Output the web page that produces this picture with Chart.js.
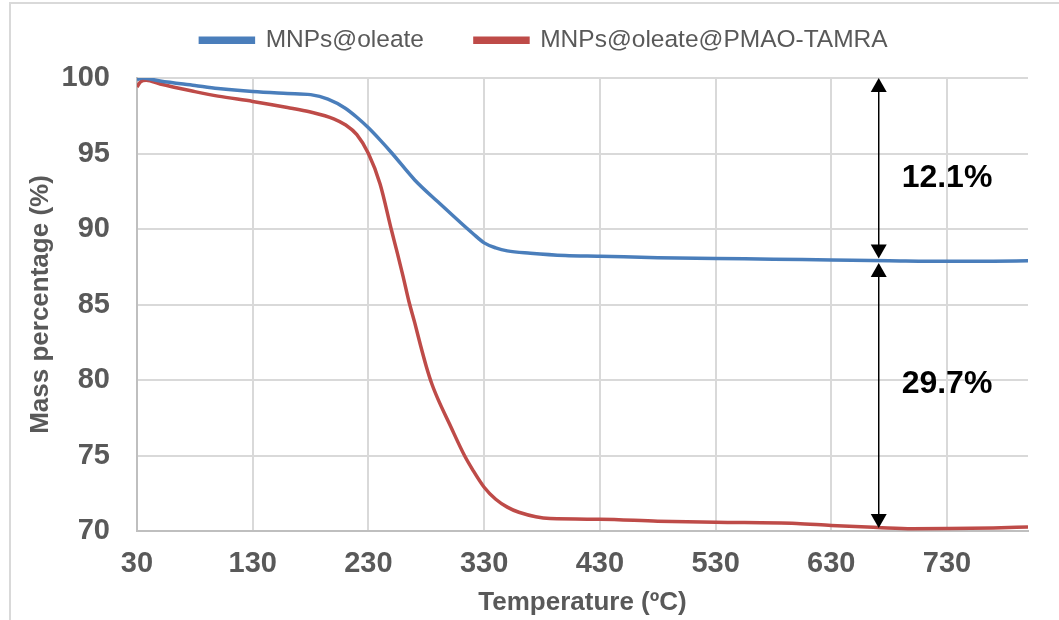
<!DOCTYPE html>
<html>
<head>
<meta charset="utf-8">
<script src="https://cdn.jsdelivr.net/npm/chart.js@4"></script>
<style>
  html, body { margin: 0; padding: 0; background: #fff; }
  #wrap { position: relative; width: 1059px; height: 620px; overflow: hidden; }
  #frame { position: absolute; left: 9px; top: 2px; width: 1100px; height: 700px; border: 2px solid #d9d9d9; box-sizing: border-box; }
  canvas { position: absolute; left: 0; top: 0; }
</style>
</head>
<body>
<div id="wrap">
  <div id="frame"></div>
  <canvas id="tga" width="1059" height="620"></canvas>
</div>
<script>
// temperatures (ºC) and mass (%)
const tempOleate = [30, 35, 50, 80, 100, 130, 160, 180, 195, 210, 220, 230, 240, 250, 270, 290, 310, 320, 330, 340, 350, 370, 400, 430, 480, 530, 580, 630, 680, 730, 770, 800];
const massOleate = [99.9, 100.0, 99.8, 99.5, 99.3, 99.1, 98.98, 98.9, 98.6, 98.0, 97.4, 96.7, 95.9, 95.05, 93.25, 91.8, 90.4, 89.72, 89.08, 88.75, 88.55, 88.4, 88.25, 88.2, 88.1, 88.05, 88.0, 87.95, 87.9, 87.86, 87.87, 87.9];

const tempTamra = [30, 33, 38, 50, 80, 100, 130, 160, 180, 200, 210, 220, 230, 240, 250, 255, 260, 265, 270, 275, 280, 285, 290, 300, 313, 320, 330, 340, 350, 360, 387, 430, 480, 530, 600, 630, 670, 700, 730, 770, 800];
const massTamra = [99.4, 99.75, 99.85, 99.6, 99.1, 98.8, 98.45, 98.05, 97.75, 97.3, 96.9, 96.25, 95.0, 93.0, 89.9, 88.4, 86.85, 85.2, 83.8, 82.3, 80.9, 79.7, 78.75, 77.1, 75.0, 74.07, 72.9, 72.1, 71.58, 71.24, 70.82, 70.78, 70.65, 70.58, 70.5, 70.36, 70.23, 70.15, 70.16, 70.2, 70.27];

const xTicks = [30, 130, 230, 330, 430, 530, 630, 730];
const yTicks = [70, 75, 80, 85, 90, 95, 100];

// mass loss arrows and labels
const arrowTemp = 671;
const arrowUpper = [100, 88.05];
const arrowLower = [87.75, 70.2];
const lossLabels = ['12.1%', '29.7%'];
const lossLabelTemp = 730;
const lossLabelMass = [93.34, 79.7];

const FONT = "'Liberation Sans', Arial, sans-serif";
const GREY = '#595959';

function toPoints(xs, ys) {
  return xs.map((x, i) => ({ x: x, y: ys[i] }));
}

// extra room under the legend, so the plot starts lower than the legend would put it
const legendGap = {
  id: 'legendGap',
  beforeLayout(chart) {
    const legend = chart.legend;
    if (!legend || legend._gapPatched) return;
    const fit = legend.fit;
    legend.fit = function () {
      fit.call(this);
      this.height += 15.5;
    };
    legend._gapPatched = true;
  }
};

const lossArrows = {
  id: 'lossArrows',
  afterDatasetsDraw(chart) {
    const ctx = chart.ctx;
    const xs = chart.scales.x, ys = chart.scales.y;
    const ax = xs.getPixelForValue(arrowTemp);

    function head(x, y, dir) {
      ctx.beginPath();
      ctx.moveTo(x, y);
      ctx.lineTo(x - 8, y + dir * 14);
      ctx.lineTo(x + 8, y + dir * 14);
      ctx.closePath();
      ctx.fill();
    }
    function arrow(a, b) {
      const y1 = ys.getPixelForValue(a), y2 = ys.getPixelForValue(b);
      ctx.beginPath();
      ctx.moveTo(ax, y1 + 10);
      ctx.lineTo(ax, y2 - 10);
      ctx.stroke();
      head(ax, y1, 1);
      head(ax, y2, -1);
    }

    ctx.save();
    ctx.strokeStyle = '#000';
    ctx.fillStyle = '#000';
    ctx.lineWidth = 1.5;
    arrow(arrowUpper[0], arrowUpper[1]);
    arrow(arrowLower[0], arrowLower[1]);

    ctx.font = 'bold 32px ' + FONT;
    ctx.textAlign = 'center';
    ctx.textBaseline = 'middle';
    lossLabels.forEach((t, i) => {
      ctx.fillText(t, xs.getPixelForValue(lossLabelTemp), ys.getPixelForValue(lossLabelMass[i]));
    });
    ctx.restore();
  }
};

new Chart(document.getElementById('tga'), {
  type: 'line',
  data: {
    datasets: [
      {
        label: 'MNPs@oleate',
        data: toPoints(tempOleate, massOleate),
        borderColor: '#4A7EBB',
        backgroundColor: '#4A7EBB',
        borderWidth: 3.5,
        pointRadius: 0,
        cubicInterpolationMode: 'monotone'
      },
      {
        label: 'MNPs@oleate@PMAO-TAMRA',
        data: toPoints(tempTamra, massTamra),
        borderColor: '#BE4B48',
        backgroundColor: '#BE4B48',
        borderWidth: 3.5,
        pointRadius: 0,
        cubicInterpolationMode: 'monotone'
      }
    ]
  },
  options: {
    responsive: false,
    animation: false,
    layout: { padding: { left: 60, right: 31, top: -23, bottom: 0 } },
    plugins: {
      legend: {
        position: 'top',
        labels: {
          boxWidth: 53,
          boxHeight: 4,
          padding: 51,
          color: GREY,
          font: { family: FONT, size: 24.5 }
        }
      },
      tooltip: { enabled: false }
    },
    scales: {
      x: {
        type: 'linear',
        min: 30,
        max: 800,
        afterBuildTicks: (scale) => { scale.ticks = xTicks.map(v => ({ value: v })); },
        afterFit: (scale) => { scale.height = 89; },
        grid: { color: '#d9d9d9', lineWidth: 2, drawTicks: false },
        border: { color: '#bfbfbf', width: 2 },
        ticks: { color: GREY, padding: 16, maxRotation: 0, font: { family: FONT, size: 29, weight: 'bold' } },
        title: {
          display: true,
          text: 'Temperature (ºC)',
          color: GREY,
          padding: { top: 0, bottom: 2 },
          font: { family: FONT, size: 26, weight: 'bold' }
        }
      },
      y: {
        min: 70,
        max: 100,
        afterBuildTicks: (scale) => { scale.ticks = yTicks.map(v => ({ value: v })); },
        afterFit: (scale) => { scale.width = 77; },
        grid: { color: '#d9d9d9', lineWidth: 2, drawTicks: false },
        border: { color: '#bfbfbf', width: 2 },
        ticks: { color: GREY, padding: 27, font: { family: FONT, size: 29, weight: 'bold' } },
        title: {
          display: true,
          text: 'Mass percentage (%)',
          color: GREY,
          padding: { top: -35, bottom: 0 },
          font: { family: FONT, size: 26, weight: 'bold' }
        }
      }
    }
  },
  plugins: [legendGap, lossArrows]
});
</script>
</body>
</html>
